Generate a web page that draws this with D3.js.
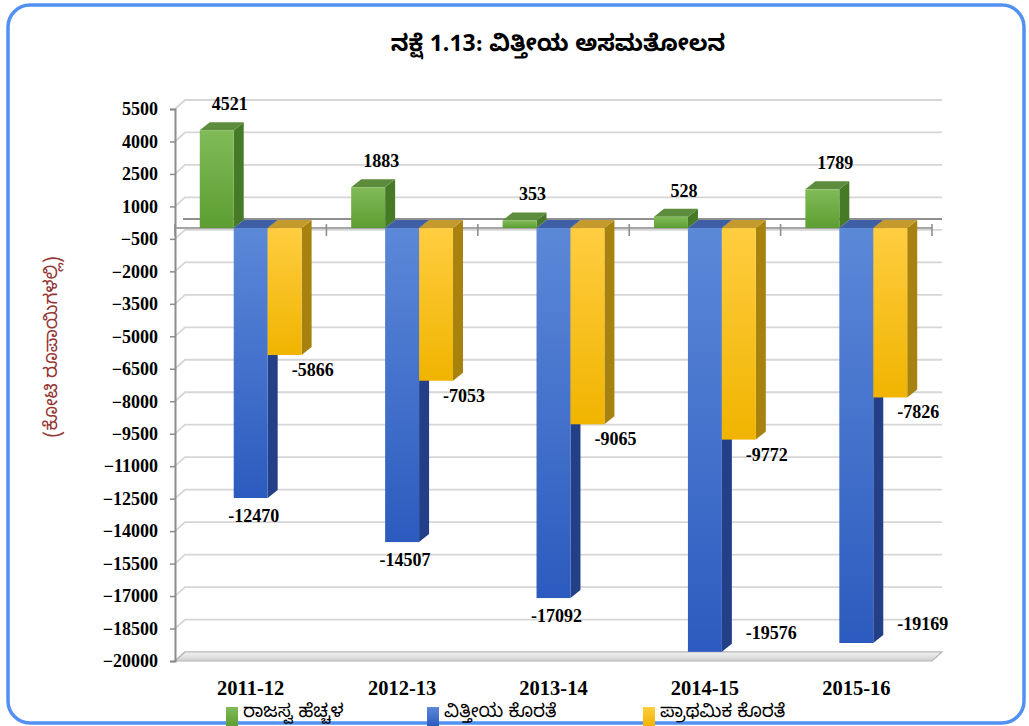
<!DOCTYPE html>
<html><head><meta charset="utf-8">
<script src="https://cdn.jsdelivr.net/npm/d3@7"></script>
<style>body{margin:0;background:#fff;} svg{display:block}</style>
</head><body><svg id="c" width="1029" height="726"></svg>
<script>
const title = "ನಕ್ಷೆ 1.13: ವಿತ್ತೀಯ ಅಸಮತೋಲನ";
const yAxisTitle = "(ಕೋಟಿ ರೂಪಾಯಿಗಳಲ್ಲಿ)";
const categories = ["2011-12","2012-13","2013-14","2014-15","2015-16"];
const seriesNames = ["ರಾಜಸ್ವ ಹೆಚ್ಚಳ","ವಿತ್ತೀಯ ಕೊರತೆ","ಪ್ರಾಥಮಿಕ ಕೊರತೆ"];
const revenueSurplus = [4521,1883,353,528,1789];
const fiscalDeficit = [-12470,-14507,-17092,-19576,-19169];
const primaryDeficit = [-5866,-7053,-9065,-9772,-7826];
const yTicks = [5500,4000,2500,1000,-500,-2000,-3500,-5000,-6500,-8000,-9500,-11000,-12500,-14000,-15500,-17000,-18500,-20000];

const KN = "'Noto Sans Kannada','Noto Serif Kannada','Lohit Kannada','Tunga','Nirmala UI',sans-serif";
const SERIF = "'Liberation Serif','Times New Roman',serif";

const svg = d3.select("#c");

// palette per series: [frontTop, frontBottom, side, top]
const pal = [
  ["#80bb58","#5c9e31","#467a27","#5d8c3d"],
  ["#5c88d8","#2c5bbf","#223f87","#3e5fa6"],
  ["#ffcd40","#f0b400","#a8820e","#c59a2c"]
];

const defs = svg.append("defs");
pal.forEach((p,i)=>{
  const g = defs.append("linearGradient").attr("id","g"+i).attr("x1",0).attr("y1",0).attr("x2",0).attr("y2",1);
  g.append("stop").attr("offset","0%").attr("stop-color",p[0]);
  g.append("stop").attr("offset","100%").attr("stop-color",p[1]);
});
const fg = defs.append("linearGradient").attr("id","floorg").attr("x1",0).attr("y1",0).attr("x2",0).attr("y2",1);
fg.append("stop").attr("offset","0%").attr("stop-color","#f2f2f2");
fg.append("stop").attr("offset","100%").attr("stop-color","#d0d0d0");

// frame
svg.append("rect").attr("x",8).attr("y",5).attr("width",1016).attr("height",718)
  .attr("rx",22).attr("fill","#fff").attr("stroke","#5291f2").attr("stroke-width",3.5);

// title
svg.append("text").attr("x",558).attr("y",51).attr("text-anchor","middle")
  .attr("font-family",KN).attr("font-weight","bold").attr("font-size",23).attr("fill","#000").text(title);

const y = d3.scaleLinear().domain([-20000,5500]).range([661,109]);
const x = d3.scaleBand().domain(categories).range([175,932]);
const xs = d3.scaleBand().domain([0,1,2]).range([0,x.bandwidth()]).paddingInner(0).paddingOuter(0.73);
const WDX = 10, WDY = -9; // wall depth
const BDX = 10, BDY = -8; // bar depth
const x0 = x.range()[0], x1 = x.range()[1];

// gridlines on side + back wall
const grid = svg.append("g").attr("fill","none").attr("stroke","#d6d6d6").attr("stroke-width",1.8);
yTicks.forEach(t=>{
  const yy = y(t);
  grid.append("path").attr("d",`M${x0},${yy}L${x0+WDX},${yy+WDY}L${x1+WDX},${yy+WDY}`);
});

// floor
const yF = y(-20000);
svg.append("path").attr("d",`M${x0},${yF}L${x0+WDX},${yF+WDY}L${x1+WDX},${yF+WDY}L${x1},${yF}Z`)
  .attr("fill","url(#floorg)").attr("stroke","#b5b5b5").attr("stroke-width",1.2);

// back zero line
const y0 = y(0);
svg.append("line").attr("x1",x0+WDX-2).attr("x2",x1+WDX).attr("y1",y0+WDY).attr("y2",y0+WDY)
  .attr("stroke","#8f8f8f").attr("stroke-width",2);
// front category axis
svg.append("line").attr("x1",x0).attr("x2",x1).attr("y1",y0).attr("y2",y0)
  .attr("stroke","#a6a6a6").attr("stroke-width",2);
const bounds = categories.map(c=>x(c)).concat([x1]);
bounds.forEach(b=>{
  svg.append("line").attr("x1",b).attr("x2",b).attr("y1",y0-4).attr("y2",y0+8)
    .attr("stroke","#8f8f8f").attr("stroke-width",1.6);
});

// left value axis
const yAxis = d3.axisLeft(y).tickValues(yTicks).tickSize(5).tickPadding(12).tickFormat(d3.format("d"));
const ga = svg.append("g").attr("transform",`translate(${x0},0)`).call(yAxis);
ga.select(".domain").attr("stroke","#8c8c8c").attr("stroke-width",2);
ga.selectAll(".tick line").attr("stroke","#8c8c8c").attr("stroke-width",1.5);
ga.selectAll(".tick text").attr("font-family",SERIF).attr("font-weight","bold").attr("font-size",18).attr("fill","#000");

// y axis title
svg.append("text").attr("transform","translate(57,347) rotate(-90)").attr("text-anchor","middle")
  .attr("font-family",KN).attr("font-size",18.5).attr("fill","#943634").text(yAxisTitle);

// bars
const series = [revenueSurplus, fiscalDeficit, primaryDeficit];
const bw = xs.bandwidth();
const barsG = svg.append("g");
categories.forEach((c,ci)=>{
  series.forEach((arr,si)=>{
    const v = arr[ci];
    const bx = x(c) + xs(si);
    const yt = Math.min(y(v), y0), yb = Math.max(y(v), y0);
    const g = barsG.append("g");
    g.append("path").attr("d",`M${bx+bw},${yt}L${bx+bw+BDX},${yt+BDY}L${bx+bw+BDX},${yb+BDY}L${bx+bw},${yb}Z`)
      .attr("fill",pal[si][2]);
    g.append("path").attr("d",`M${bx},${yt}L${bx+BDX},${yt+BDY}L${bx+bw+BDX},${yt+BDY}L${bx+bw},${yt}Z`)
      .attr("fill",pal[si][3]);
    g.append("rect").attr("x",bx).attr("y",yt).attr("width",bw).attr("height",yb-yt)
      .attr("fill",`url(#g${si})`);
  });
});

// data labels
const lab = svg.append("g").attr("font-family",SERIF).attr("font-weight","bold").attr("font-size",18).attr("fill","#000");
categories.forEach((c,ci)=>{
  let v = revenueSurplus[ci];
  let cx = x(c) + xs(0) + bw/2;
  lab.append("text").attr("x",cx+13).attr("y",y(v)-20).attr("text-anchor","middle").text(v);
  v = fiscalDeficit[ci];
  cx = x(c) + xs(1) + bw/2;
  if (y(v) + 26 > yF) {
    lab.append("text").attr("x",x(c)+xs(1)+bw+24).attr("y",y(v)-13).attr("text-anchor","start").text(v);
  } else {
    lab.append("text").attr("x",cx+3).attr("y",y(v)+24).attr("text-anchor","middle").text(v);
  }
  v = primaryDeficit[ci];
  cx = x(c) + xs(2) + bw/2;
  lab.append("text").attr("x",cx+28).attr("y",y(v)+21).attr("text-anchor","middle").text(v);
});

// category labels
const cl = svg.append("g").attr("font-family",SERIF).attr("font-weight","bold").attr("font-size",20.5).attr("fill","#000");
categories.forEach(c=>{
  cl.append("text").attr("x",x(c)+x.bandwidth()/2).attr("y",695).attr("text-anchor","middle").text(c);
});

// legend
const legX = [226, 427, 643];
seriesNames.forEach((n,i)=>{
  svg.append("rect").attr("x",legX[i]).attr("y",707).attr("width",12).attr("height",19).attr("fill",`url(#g${i})`);
  svg.append("text").attr("x",legX[i]+17).attr("y",717).attr("font-family",KN).attr("font-size",18.5)
    .attr("fill","#000").text(n);
});
</script>
</body></html>
